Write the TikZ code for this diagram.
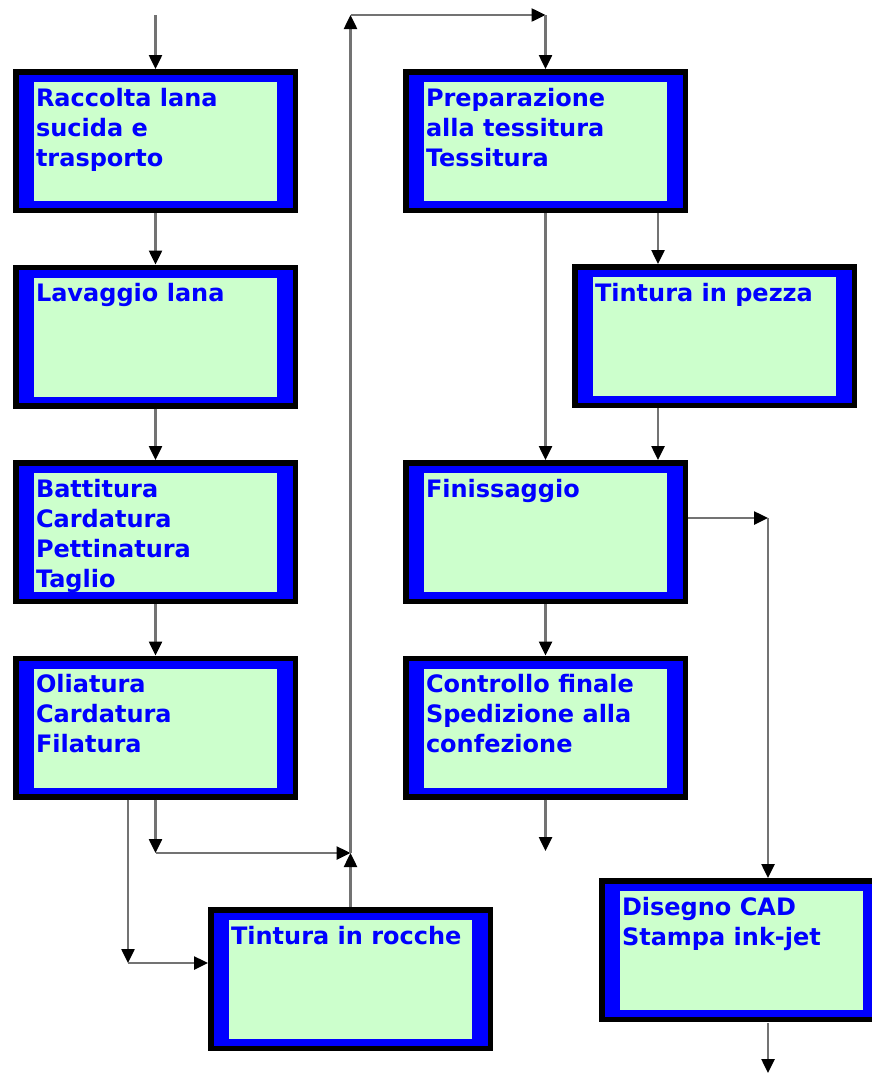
\documentclass[tikz,border=0pt]{standalone}
\usepackage{fontspec}
\setmainfont{DejaVu Sans}
\usetikzlibrary{positioning,arrows.meta}

\definecolor{panelgreen}{HTML}{CCFFCC}
\definecolor{stageblue}{HTML}{0000FF}

\begin{document}
\begin{tikzpicture}[x=1pt,y=-1pt,
    frame/.style={rectangle, draw=black, fill=stageblue, line width=5.5pt,
        minimum width=279.5pt, minimum height=138.5pt, inner sep=0pt,
        outer sep=2.75pt, anchor=north west},
    panel/.style={rectangle, fill=panelgreen, inner xsep=2pt, inner ysep=6pt,
        outer sep=0pt, text=stageblue, font=\bfseries\fontsize{24}{30}\selectfont,
        execute at begin node={\begin{minipage}[t][107pt][t]{239pt}\raggedright},
        execute at end node={\end{minipage}}},
    conn/.style={draw=black!55, line width=2.5pt,
        -{Triangle[length=14pt,width=13pt,black]}}]
    \useasboundingbox (0,0) rectangle (872,1074);

    % left column
    \node[frame] (raccolta) at (13,69) {};
    \node[frame, below=51.5pt of raccolta] (lavaggio) {};
    \node[frame, below=51.5pt of lavaggio] (battitura) {};
    \node[frame, below=51.5pt of battitura] (oliatura) {};
    \node[frame] (rocche) at (208,907) {};

    % right column
    \node[frame] (preparazione) at (403,69) {};
    \node[frame] (pezza) at (572,264) {};
    \node[frame, below=247pt of preparazione] (finissaggio) {};
    \node[frame, below=51.5pt of finissaggio] (controllo) {};
    \node[frame] (disegno) at (599,878) {};

    \node[panel, below right=13pt and 21pt of raccolta.north west] (raccolta-in) {Raccolta lana\\sucida e\\trasporto};
    \node[panel, below right=13pt and 21pt of lavaggio.north west] (lavaggio-in) {Lavaggio lana};
    \node[panel, below right=13pt and 21pt of battitura.north west] (battitura-in) {Battitura\\Cardatura\\Pettinatura\\Taglio};
    \node[panel, below right=13pt and 21pt of oliatura.north west] (oliatura-in) {Oliatura\\Cardatura\\Filatura};
    \node[panel, below right=13pt and 21pt of rocche.north west] (rocche-in) {Tintura in rocche};
    \node[panel, below right=13pt and 21pt of preparazione.north west] (preparazione-in) {Preparazione\\alla tessitura\\Tessitura};
    \node[panel, below right=13pt and 21pt of pezza.north west] (pezza-in) {Tintura in pezza};
    \node[panel, below right=13pt and 21pt of finissaggio.north west] (finissaggio-in) {Finissaggio};
    \node[panel, below right=13pt and 21pt of controllo.north west] (controllo-in) {Controllo finale\\Spedizione alla\\confezione};
    \node[panel, below right=13pt and 21pt of disegno.north west] (disegno-in) {Disegno CAD\\Stampa ink-jet};

    \coordinate (start) at (155.5,15);
    \coordinate (bypass) at (155.5,853);
    \coordinate (join) at (350.5,853);
    \coordinate (dyeturn) at (128,963);
    \coordinate (looptop) at (350.5,15);
    \coordinate (weaveturn) at (545.5,15);
    \coordinate (pezzafeed) at (658,213);
    \coordinate (printturn) at (768,518);
    \coordinate (packout) at (545.5,851);
    \coordinate (printexit) at (768,1023);
    \coordinate (printout) at (768,1073);

    \path[every edge/.style={conn}]
    (start) edge (raccolta)
    (raccolta) edge (lavaggio)
    (lavaggio) edge (battitura)
    (battitura) edge (oliatura)
    (oliatura) edge (bypass)
    (bypass) edge (join)
    (oliatura.south -| dyeturn) edge (dyeturn)
    (dyeturn) edge (dyeturn -| rocche.west)
    (rocche) edge (join)
    (join) edge (looptop)
    (looptop) edge (weaveturn)
    (weaveturn) edge (preparazione)
    (preparazione) edge (finissaggio)
    (pezzafeed) edge (pezzafeed |- pezza.north)
    (pezzafeed |- pezza.south) edge (pezzafeed |- finissaggio.north)
    (finissaggio.east |- printturn) edge (printturn)
    (printturn) edge (printturn |- disegno.north)
    (finissaggio) edge (controllo)
    (controllo) edge (packout)
    (printexit) edge (printout)
    ;
\end{tikzpicture}
\end{document}
